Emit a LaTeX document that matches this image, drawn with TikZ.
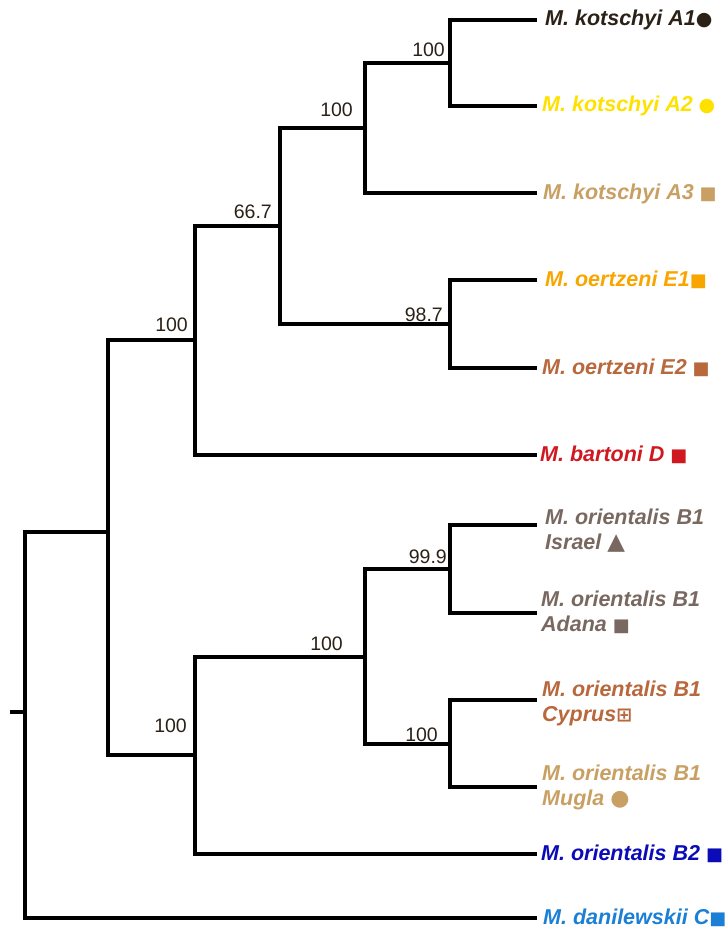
\documentclass[tikz,border=0pt]{standalone}
\usepackage{fontspec}
\setmainfont{Liberation Sans}
\newfontfamily\symfont{DejaVu Sans}
\usepackage{tikz}
\usetikzlibrary{positioning}
\definecolor{kotBlack}{HTML}{2B2116}
\definecolor{kotYellow}{HTML}{FFE100}
\definecolor{tanMugla}{HTML}{C9A063}
\definecolor{oertOrange}{HTML}{F9A500}
\definecolor{oertBrown}{HTML}{B8683C}
\definecolor{bartRed}{HTML}{D01820}
\definecolor{oriGrey}{HTML}{786860}
\definecolor{oriBlue}{HTML}{0B0BB8}
\definecolor{daniBlue}{HTML}{1C7FD6}
\newcommand{\mkSq}{{\symfont\fontsize{18}{18}\selectfont ■}}
\newcommand{\mkDot}[1]{{\symfont\fontsize{#1}{#1}\selectfont ●}}
\newcommand{\mkTri}{{\symfont\fontsize{23}{23}\selectfont ▲}}
\newcommand{\mkBox}{{\symfont\fontsize{19}{19}\selectfont ⊞}}

\begin{document}
\begin{tikzpicture}[
  x=1pt, y=-1pt,
  branch/.style={line width=4pt, black},
  leaf/.style={inner sep=0pt, font=\bfseries\itshape\fontsize{21.5}{25}\selectfont, align=left, anchor=base west},
  boot/.style={inner sep=0pt, font=\fontsize{19.5}{20}\selectfont, text=kotBlack, anchor=south east}
]
\useasboundingbox (0,0) rectangle (726,928);
% tips of the branches
\coordinate (tA1) at (537,20);
\coordinate (tA2) at (537,106);
\coordinate (tA3) at (537,193);
\coordinate (tE1) at (537,280);
\coordinate (tE2) at (537,368);
\coordinate (tD) at (537,455);
\coordinate (tIs) at (537,525);
\coordinate (tAd) at (537,613);
\coordinate (tCy) at (537,700);
\coordinate (tMu) at (537,787);
\coordinate (tB2) at (537,854);
\coordinate (tC) at (537,918);
% inner nodes
\coordinate (nA12) at (450,63);
\coordinate (nA) at (365,128);
\coordinate (nE) at (450,324);
\coordinate (nAE) at (280,226);
\coordinate (nAED) at (195,340);
\coordinate (nIA) at (450,569);
\coordinate (nCM) at (450,744);
\coordinate (nB1) at (365,657);
\coordinate (nB) at (195,755);
\coordinate (nIng) at (108,532);
\coordinate (root) at (25,712);
\coordinate (stub) at (10,712);

\draw[branch] (tA1) -| (nA12) |- (tA2);
\draw[branch] (nA12) -| (nA) |- (tA3);
\draw[branch] (tE1) -| (nE) |- (tE2);
\draw[branch] (nA) -| (nAE) |- (nE);
\draw[branch] (nAE) -| (nAED) |- (tD);
\draw[branch] (tIs) -| (nIA) |- (tAd);
\draw[branch] (tCy) -| (nCM) |- (tMu);
\draw[branch] (nIA) -| (nB1) |- (nCM);
\draw[branch] (nB1) -| (nB) |- (tB2);
\draw[branch] (nAED) -| (nIng) |- (nB);
\draw[branch] (nIng) -| (root) |- (tC);
\draw[branch] (stub) -- (root);

% bootstrap values
\node[boot] (bA12) at ([xshift=-5pt,yshift=6pt]nA12) {100};
\node[boot] (bA) at ([xshift=-12pt,yshift=11pt]nA) {100};
\node[boot] (bAE) at ([xshift=-8pt,yshift=7pt]nAE) {66.7};
\node[boot] (bE) at ([xshift=-7pt,yshift=2pt]nE) {98.7};
\node[boot] (bAED) at ([xshift=-7pt,yshift=8pt]nAED) {100};
\node[boot] (bIA) at ([xshift=-3pt,yshift=5pt]nIA) {99.9};
\node[boot] (bB1) at ([xshift=-22pt,yshift=6pt]nB1) {100};
\node[boot] (bCM) at ([xshift=-12pt,yshift=2pt]nCM) {100};
\node[boot] (bB) at ([xshift=-8pt,yshift=22pt]nB) {100};

% taxa
\node[leaf, text=kotBlack] (A1) at ([xshift=8pt,yshift=-6pt]tA1) {M. kotschyi A1\mkDot{19}};
\node[leaf, text=kotYellow] (A2) at ([xshift=5pt,yshift=-6pt]tA2) {M. kotschyi A2 \mkDot{19}};
\node[leaf, text=tanMugla] (A3) at ([xshift=6pt,yshift=-6pt]tA3) {M. kotschyi A3 \mkSq};
\node[leaf, text=oertOrange] (E1) at ([xshift=8pt,yshift=-6pt]tE1) {M. oertzeni E1\mkSq};
\node[leaf, text=oertBrown] (E2) at ([xshift=5pt,yshift=-6pt]tE2) {M. oertzeni E2 \mkSq};
\node[leaf, text=bartRed] (D) at ([xshift=3pt,yshift=-6pt]tD) {M. bartoni D \mkSq};
\node[leaf, text=oriGrey] (Is) at ([xshift=8pt,yshift=-24pt]tIs) {M. orientalis B1\\Israel \mkTri};
\node[leaf, text=oriGrey] (Ad) at ([xshift=4pt,yshift=-18pt]tAd) {M. orientalis B1\\Adana \mkSq};
\node[leaf, text=oertBrown] (Cy) at ([xshift=5pt,yshift=-21pt]tCy) {M. orientalis B1\\Cyprus\mkBox};
\node[leaf, text=tanMugla] (Mu) at ([xshift=5pt,yshift=-18pt]tMu) {M. orientalis B1\\Mugla \mkDot{22}};
\node[leaf, text=oriBlue] (B2) at ([xshift=4pt,yshift=-6pt]tB2) {M. orientalis B2 \mkSq};
\node[leaf, text=daniBlue] (C) at ([xshift=6pt,yshift=-6pt]tC) {M. danilewskii C\mkSq};
\end{tikzpicture}
\end{document}
